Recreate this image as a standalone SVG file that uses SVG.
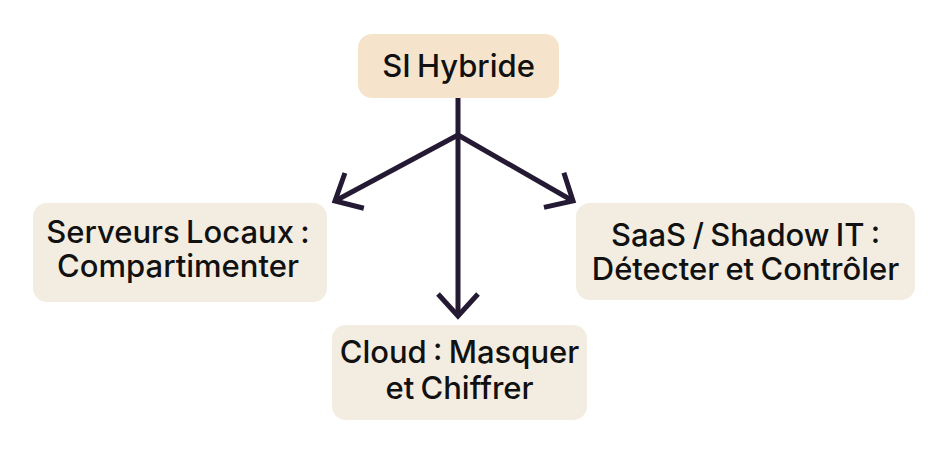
<svg xmlns="http://www.w3.org/2000/svg" width="949" height="467" viewBox="0 0 949 467">
<defs>
<style>
.box{fill:#F3EDE1}
.top{fill:#F5E4CB}
.t{font-family:Inter,"Noto Sans","DejaVu Sans",sans-serif;font-size:31px;font-weight:500;fill:#111111;text-anchor:middle;letter-spacing:0px;word-spacing:-2px}
.c{stroke:#241A33;stroke-width:5;fill:none;stroke-linecap:butt}
</style>
<marker id="ah" markerUnits="userSpaceOnUse" markerWidth="60" markerHeight="60" viewBox="-40 -30 60 60" refX="0" refY="0" orient="auto">
<path d="M-22,-20 L0,0 L-22,20" fill="none" stroke="#241A33" stroke-width="5"/>
</marker>
</defs>
<rect width="949" height="467" fill="#FFFFFF"/>
<g id="connectors">
<line class="c" x1="458" y1="98" x2="458" y2="316" marker-end="url(#ah)"/>
<line class="c" x1="458" y1="135" x2="335" y2="201" marker-end="url(#ah)"/>
<line class="c" x1="458" y1="135" x2="573" y2="201" marker-end="url(#ah)"/>
</g>
<g id="n-si">
<rect class="top" x="358" y="34" width="201" height="64" rx="14"/>
<text class="t" x="458.5" y="77">SI Hybride</text>
</g>
<g id="n-serveurs">
<rect class="box" x="33" y="203" width="294" height="99" rx="14"/>
<text class="t" x="178" y="243">Serveurs Locaux :</text>
<text class="t" x="178" y="277">Compartimenter</text>
</g>
<g id="n-cloud">
<rect class="box" x="332" y="325" width="255" height="95" rx="14"/>
<text class="t" x="459.5" y="363">Cloud : Masquer</text>
<text class="t" x="459.5" y="399">et Chiffrer</text>
</g>
<g id="n-saas">
<rect class="box" x="576" y="203" width="339" height="97" rx="14"/>
<text class="t" x="745.5" y="246">SaaS / Shadow IT :</text>
<text class="t" x="745.5" y="280">Détecter et Contrôler</text>
</g>
</svg>
